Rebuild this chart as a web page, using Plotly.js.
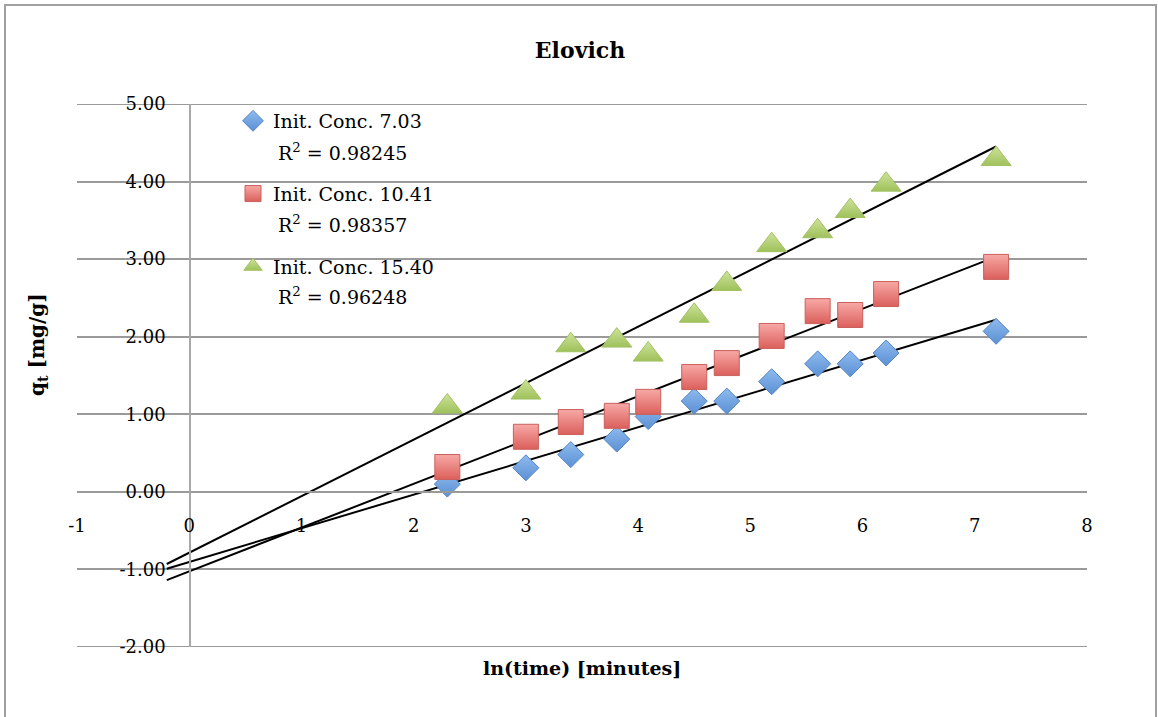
<!DOCTYPE html>
<html>
<head>
<meta charset="utf-8">
<script src="https://cdn.plot.ly/plotly-3.0.1.min.js"></script>
<style>
html,body{margin:0;padding:0;background:#ffffff;}
#chart{width:1158px;height:717px;}
</style>
</head>
<body>
<div id="chart"></div>
<script>
// ---- data ----
const lnTime = [2.30, 3.00, 3.40, 3.81, 4.09, 4.50, 4.79, 5.19, 5.60, 5.89, 6.21, 7.19];
const qtConc703  = [0.10, 0.31, 0.48, 0.68, 0.97, 1.17, 1.17, 1.42, 1.65, 1.65, 1.79, 2.07];
const qtConc1041 = [0.32, 0.71, 0.90, 0.98, 1.16, 1.48, 1.66, 2.01, 2.33, 2.28, 2.55, 2.90];
const qtConc1540 = [1.10, 1.28, 1.89, 1.95, 1.77, 2.27, 2.68, 3.18, 3.36, 3.62, 3.96, 4.29];
const seriesNames = ['Init. Conc. 7.03', 'Init. Conc. 10.41', 'Init. Conc. 15.40'];
const rSquaredText = ['0.98245', '0.98357', '0.96248'];
const xTickVals = [-1, 0, 1, 2, 3, 4, 5, 6, 7, 8];
const xTickText = ['-1', '0', '1', '2', '3', '4', '5', '6', '7', '8'];
const yTickVals = [-2, -1, 0, 1, 2, 3, 4, 5];
const yTickText = ['-2.00', '-1.00', '0.00', '1.00', '2.00', '3.00', '4.00', '5.00'];
const chartTitle = 'Elovich';
const xTitle = 'ln(time) [minutes]';
const yTitle = 'q<sub>t</sub> [mg/g]';

// ---- styling ----
const FONT = 'DejaVu Serif';
const GRID = '#9a9a9a';
const trendBackward = 2.5;
const seriesY = [qtConc703, qtConc1041, qtConc1540];
const markerStyles = [
  {symbol: 'diamond', size: 20, color: '#8fbbee', grad: '#5b90d4', line: '#5485c4'},
  {symbol: 'square', size: 25, color: '#f7a9a6', grad: '#db5f5b', line: '#c9605c'},
  {symbol: 'triangle-up', size: 26, color: '#cde39b', grad: '#9fc15b', line: '#a2c163'}
];

// px -> paper helpers (plot area 77..1087 x, 104..647 y)
const L = 77, R = 1087, T = 104, B = 647, W = 1158, H = 717;
const px = v => (v - L) / (R - L);
const py = v => (B - v) / (B - T);

function linfit(xs, ys) {
  const n = xs.length;
  const mx = xs.reduce((a, b) => a + b, 0) / n;
  const my = ys.reduce((a, b) => a + b, 0) / n;
  let sxy = 0, sxx = 0;
  for (let i = 0; i < n; i++) { sxy += (xs[i] - mx) * (ys[i] - my); sxx += (xs[i] - mx) ** 2; }
  const m = sxy / sxx;
  return {m: m, b: my - m * mx};
}

const traces = [];
seriesY.forEach((ys, i) => {
  const fit = linfit(lnTime, ys);
  const x0 = Math.min(...lnTime) - trendBackward;
  const x1 = Math.max(...lnTime);
  traces.push({
    x: [x0, x1], y: [fit.m * x0 + fit.b, fit.m * x1 + fit.b],
    mode: 'lines', line: {color: '#000000', width: 2},
    showlegend: false, hoverinfo: 'skip', legendgroup: 'g' + i
  });
});
seriesY.forEach((ys, i) => {
  const s = markerStyles[i];
  traces.push({
    x: lnTime, y: ys, name: seriesNames[i], legendgroup: 'g' + i,
    mode: 'markers', type: 'scatter',
    marker: {symbol: s.symbol, size: s.size, color: s.color,
             gradient: {type: 'vertical', color: s.grad},
             line: {color: s.line, width: 1}}
  });
});

const annotations = [
  {text: '<b>' + xTitle + '</b>', xref: 'paper', yref: 'paper', x: px(582), y: py(668), xanchor: 'center', yanchor: 'middle',
   showarrow: false, font: {family: FONT, size: 19, color: '#000'}},
  {text: '<b>' + yTitle + '</b>', xref: 'paper', yref: 'paper', x: px(38), y: py(345), xanchor: 'center', yanchor: 'middle',
   textangle: -90, showarrow: false, font: {family: FONT, size: 20, color: '#000'}}
];
const rY = [152, 224, 296];
rSquaredText.forEach((r, i) => {
  annotations.push({text: 'R<sup>2</sup> = ' + r, xref: 'paper', yref: 'paper', x: px(276), y: py(rY[i]),
    xanchor: 'left', yanchor: 'middle', showarrow: false, font: {family: FONT, size: 19, color: '#000'}});
});

// gridlines at the two range ends (Plotly omits grid lines on the plot edge)
const edgeGrid = [yTickVals[0], yTickVals[yTickVals.length - 1]].map(v => ({
  type: 'line', xref: 'paper', yref: 'y', x0: 0, x1: 1, y0: v, y1: v,
  line: {color: GRID, width: 2}, layer: 'below'
}));

const layout = {
  width: W, height: H,
  margin: {l: L, r: W - R, t: T, b: H - B, pad: 0},
  paper_bgcolor: '#ffffff', plot_bgcolor: 'rgba(0,0,0,0)',
  font: {family: FONT, size: 18, color: '#000000'},
  title: {text: '<b>' + chartTitle + '</b>', x: 580 / W, xref: 'container', xanchor: 'center',
          y: 1 - 50 / H, yref: 'container', yanchor: 'middle', font: {family: FONT, size: 22, color: '#000'}},
  xaxis: {range: [-1, 8], anchor: 'free', position: 2 / 7, tickmode: 'array', tickvals: xTickVals, ticktext: xTickText,
          showgrid: false, zeroline: false, showline: true, linecolor: GRID, linewidth: 2,
          ticks: '', ticklabelstandoff: 18, tickfont: {family: FONT, size: 18, color: '#000'}},
  yaxis: {range: [-2, 5], anchor: 'free', position: 1 / 9, tickmode: 'array', tickvals: yTickVals, ticktext: yTickText,
          showgrid: true, gridcolor: GRID, gridwidth: 2, zeroline: false, showline: true, linecolor: '#a8a8a8', linewidth: 1.5,
          ticks: '', ticklabelstandoff: 20, tickfont: {family: FONT, size: 18, color: '#000'}},
  showlegend: true,
  legend: {x: px(233), y: py(102), xanchor: 'left', yanchor: 'top', bgcolor: 'rgba(0,0,0,0)', borderwidth: 0,
           traceorder: 'grouped', tracegroupgap: 45, valign: 'middle', font: {family: FONT, size: 19, color: '#000'}},
  annotations: annotations,
  shapes: edgeGrid.concat([{type: 'rect', xref: 'paper', yref: 'paper', x0: px(5), x1: px(1156), y0: py(725), y1: py(5),
            line: {color: '#a0a0a0', width: 2}, fillcolor: 'rgba(0,0,0,0)', layer: 'above'}])
};

Plotly.newPlot('chart', traces, layout, {displayModeBar: false, responsive: false, staticPlot: true});
</script>
</body>
</html>
